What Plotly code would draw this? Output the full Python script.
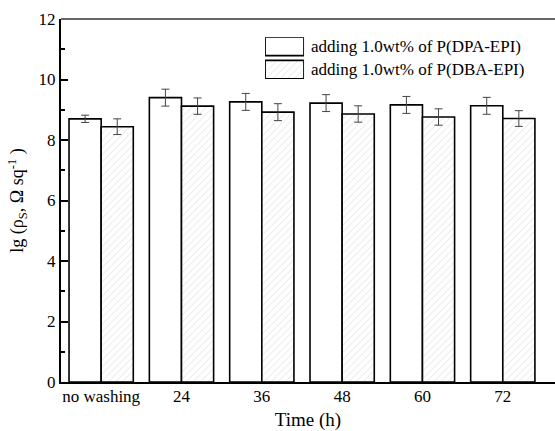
import plotly.graph_objects as go

categories = ["no washing", "24", "36", "48", "60", "72"]
dpa_values = [8.70, 9.40, 9.26, 9.22, 9.16, 9.13]
dpa_errors = [0.12, 0.28, 0.28, 0.28, 0.28, 0.28]
dba_values = [8.44, 9.12, 8.92, 8.86, 8.76, 8.71]
dba_errors = [0.26, 0.27, 0.28, 0.27, 0.27, 0.26]
series_names = ["adding 1.0wt% of P(DPA-EPI)", "adding 1.0wt% of P(DBA-EPI)"]

FONT = "Liberation Serif, Times New Roman, serif"
hatch = dict(shape="/", fgcolor="#a8a8a8", bgcolor="white", size=5, solidity=0.12)

fig = go.Figure()
fig.add_trace(go.Bar(
    x=categories, y=dpa_values, name=series_names[0],
    marker=dict(color="white", line=dict(color="black", width=1.6)),
    error_y=dict(type="data", array=dpa_errors, color="#444", thickness=1, width=4),
    showlegend=False,
))
fig.add_trace(go.Bar(
    x=categories, y=dba_values, name=series_names[1],
    marker=dict(color="white", pattern=hatch, line=dict(color="black", width=1.6)),
    error_y=dict(type="data", array=dba_errors, color="#444", thickness=1, width=4),
    showlegend=False,
))

# legend keys drawn as bars on an overlay axis
fig.add_trace(go.Bar(
    x=[1], y=[1.5], orientation="h", width=0.8, xaxis="x2", yaxis="y2",
    marker=dict(color="white", line=dict(color="black", width=1.8)),
    showlegend=False, hoverinfo="skip",
))
fig.add_trace(go.Bar(
    x=[1], y=[0.5], orientation="h", width=0.8, xaxis="x2", yaxis="y2",
    marker=dict(color="white", pattern=hatch, line=dict(color="black", width=1.8)),
    showlegend=False, hoverinfo="skip",
))

fig.update_layout(
    width=555, height=431,
    margin=dict(l=61, r=0, t=19, b=49),
    paper_bgcolor="white", plot_bgcolor="white",
    barmode="group", bargap=0.2, bargroupgap=0,
    font=dict(family=FONT, size=17, color="black"),
    xaxis=dict(
        type="category", range=[-0.5, 5.65],
        showline=True, linecolor="black", linewidth=2,
        ticks="", showgrid=False, zeroline=False,
        tickfont=dict(size=17), ticklabelstandoff=-2,
        title=dict(text="Time (h)", font=dict(size=19), standoff=8),
    ),
    yaxis=dict(
        range=[0, 12], dtick=2, tick0=0,
        showline=True, linecolor="black", linewidth=2,
        ticks="inside", ticklen=7, tickwidth=1.5, tickcolor="black",
        minor=dict(ticks="inside", ticklen=4, tickwidth=1.5, tickcolor="black", dtick=1),
        showgrid=False, zeroline=False,
        tickfont=dict(size=17),
        title=dict(text="lg (ρ<sub>S</sub>, Ω sq<sup>-1</sup> )", font=dict(size=18), standoff=10),
    ),
    xaxis2=dict(domain=[0.413, 0.492], range=[0, 1], visible=False, fixedrange=True),
    yaxis2=dict(domain=[0.835, 0.950], range=[0.1, 1.9], visible=False, fixedrange=True, anchor="x2"),
    shapes=[dict(type="line", xref="paper", yref="paper", x0=0, x1=1, y0=1, y1=1,
                 line=dict(color="#333", width=1.5))],
    annotations=[
        dict(text=series_names[0], xref="paper", yref="paper", x=0.503, y=0.924,
             xanchor="left", yanchor="middle", showarrow=False, font=dict(size=17)),
        dict(text=series_names[1], xref="paper", yref="paper", x=0.503, y=0.860,
             xanchor="left", yanchor="middle", showarrow=False, font=dict(size=17)),
    ],
)

fig.write_html("out.html", config={"displayModeBar": False},
               post_script="document.body.style.margin='0';document.body.style.overflow='hidden';")
